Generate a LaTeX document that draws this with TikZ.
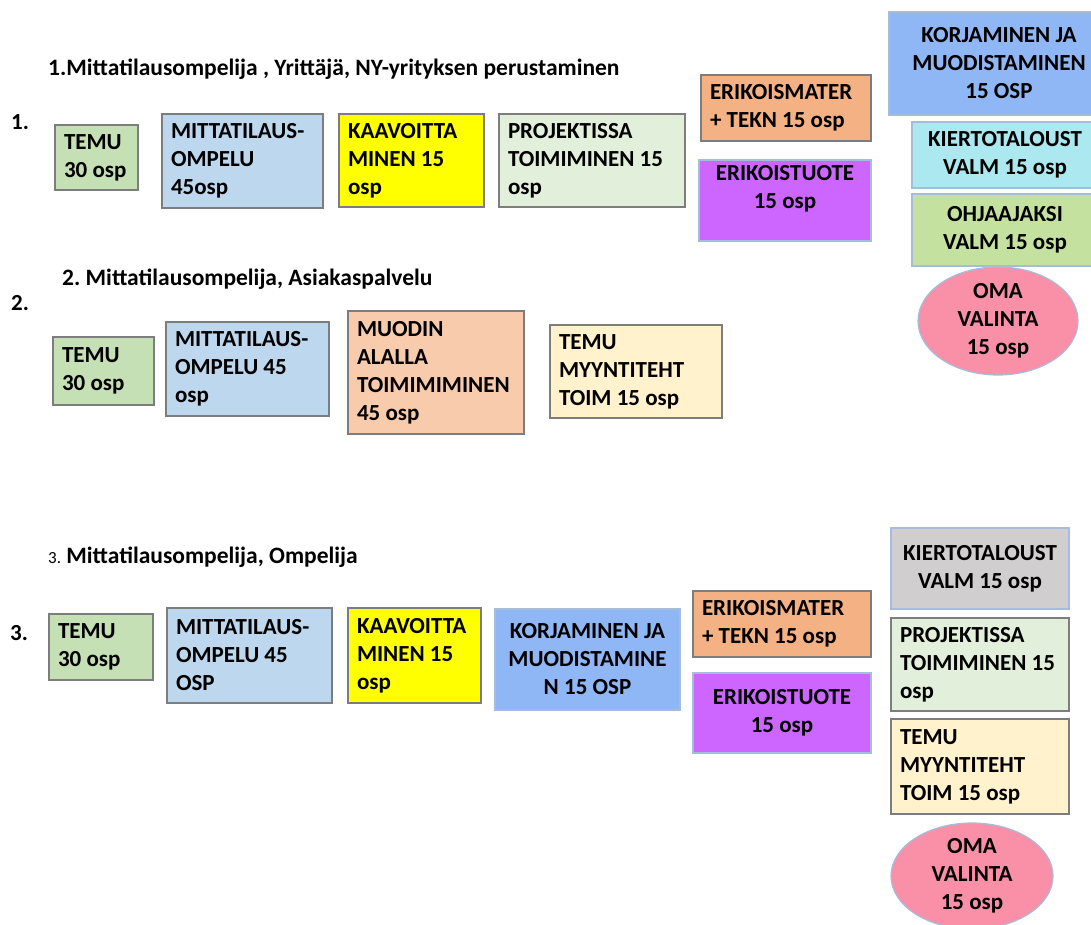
\documentclass[tikz,border=0pt]{standalone}
\usepackage{fontspec}
\setmainfont{Carlito}
\usepackage{xcolor}
\usetikzlibrary{shapes.geometric}
\frenchspacing
\definecolor{temu-green}{RGB}{197,224,180}
\definecolor{mitta-blue}{RGB}{189,215,238}
\definecolor{kaava-yellow}{RGB}{255,255,0}
\definecolor{proj-green}{RGB}{226,239,218}
\definecolor{erimat-orange}{RGB}{244,177,131}
\definecolor{tuote-purple}{RGB}{204,102,255}
\definecolor{korj-blue}{RGB}{143,182,245}
\definecolor{kierto-cyan}{RGB}{171,232,240}
\definecolor{ohjaa-green}{RGB}{197,225,160}
\definecolor{oma-pink}{RGB}{250,143,168}
\definecolor{muodin-peach}{RGB}{248,203,173}
\definecolor{myynti-cream}{RGB}{255,242,204}
\definecolor{kierto-gray}{RGB}{208,206,206}
\definecolor{box-edge}{RGB}{125,125,125}
\definecolor{soft-edge}{RGB}{165,188,218}

\begin{document}
\begin{tikzpicture}[x=1pt, y=-1pt,
  every node/.style={font=\fontsize{23}{28}\selectfont\bfseries, inner sep=0pt},
  box/.style 2 args={draw=box-edge, line width=1.2pt, inner xsep=9pt, align=flush left,
    minimum width=#1, minimum height=#2, text width=#1-18},
  cbox/.style 2 args={draw=soft-edge, line width=1.2pt, align=center,
    minimum width=#1, minimum height=#2},
  oval/.style={ellipse, draw=soft-edge, line width=1.2pt, fill=oma-pink},
  head/.style={anchor=west, font=\fontsize{23.5}{28}\selectfont\bfseries},
]
  \useasboundingbox (0,0) rectangle (1091,924);

  % 1. Yrittaja
  \node[head] (title1) at (48,69) {1.Mittatilausompelija , Yrittäjä, NY-yrityksen perustaminen};
  \node[anchor=west] (num1) at (11,122) {1.};
  \node[box={83}{65}, fill=temu-green] (r1temu) at (96.5,157.5) {TEMU\\30 osp};
  \node[box={161}{94}, fill=mitta-blue] (r1mitta) at (242.5,161) {MITTATILAUS-\\OMPELU\\45osp};
  \node[box={145}{93}, fill=kaava-yellow] (r1kaava) at (411.5,160.5) {KAAVOITTA\\MINEN 15\\osp};
  \node[box={186}{93}, fill=proj-green] (r1proj) at (592,160.5) {PROJEKTISSA\\TOIMIMINEN 15\\osp};
  \node[box={170}{66}, fill=erimat-orange] (r1erimat) at (786,108) {ERIKOISMATER\\+ TEKN 15 osp};
  \node[cbox={172}{81}, fill=tuote-purple] (r1tuote) at (785,200.5) {ERIKOISTUOTE\\15 osp\\\mbox{}};
  \node[cbox={220}{103}, fill=korj-blue] (r1korj) at (999,63.5) {KORJAMINEN JA\\MUODISTAMINEN\\15 OSP};
  \node[cbox={186}{66}, fill=kierto-cyan] (r1kierto) at (1005,155) {KIERTOTALOUST\\VALM 15 osp};
  \node[cbox={186}{72}, fill=ohjaa-green] (r1ohjaa) at (1005,230) {OHJAAJAKSI\\VALM 15 osp};
  \node[oval, minimum width=160, minimum height=108] (r1oma) at (998,321) {};
  \node[align=center] (r1omatext) at (r1oma) {OMA\\VALINTA\\15 osp};

  % 2. Asiakaspalvelu
  \node[head] (title2) at (62,279) {2. Mittatilausompelija, Asiakaspalvelu};
  \node[anchor=west] (num2) at (11,303) {2.};
  \node[box={101}{68}, fill=temu-green] (r2temu) at (103.5,371) {TEMU\\30 osp};
  \node[box={163}{94}, fill=mitta-blue] (r2mitta) at (247.5,369) {MITTATILAUS-\\OMPELU 45\\osp};
  \node[box={176}{123}, fill=muodin-peach] (r2muodin) at (436,372.5) {MUODIN\\ALALLA\\TOIMIMIMINEN\\45 osp};
  \node[box={172}{93}, fill=myynti-cream] (r2myynti) at (636,371.5) {TEMU\\MYYNTITEHT\\TOIM 15 osp};

  % 3. Ompelija
  \node[head] (title3) at (48,557) {{\mdseries\fontsize{17}{20}\selectfont 3.} Mittatilausompelija, Ompelija};
  \node[anchor=west] (num3) at (10,633) {3.};
  \node[box={104}{66}, fill=temu-green] (r3temu) at (101,647) {TEMU\\30 osp};
  \node[box={165}{95}, fill=mitta-blue] (r3mitta) at (249.5,655.5) {MITTATILAUS-\\OMPELU 45\\OSP};
  \node[box={133}{95}, fill=kaava-yellow] (r3kaava) at (414.5,655.5) {KAAVOITTA\\MINEN 15\\osp};
  \node[cbox={185}{101}, fill=korj-blue] (r3korj) at (587.5,659.5) {KORJAMINEN JA\\MUODISTAMINE\\N 15 OSP};
  \node[box={178}{66}, fill=erimat-orange] (r3erimat) at (782,624) {ERIKOISMATER\\+ TEKN 15 osp};
  \node[cbox={178}{80}, fill=tuote-purple] (r3tuote) at (782,713) {ERIKOISTUOTE\\15 osp};
  \node[cbox={178}{81}, fill=kierto-gray] (r3kierto) at (980,568.5) {KIERTOTALOUST\\VALM 15 osp};
  \node[box={178}{93}, fill=proj-green] (r3proj) at (980,664.5) {PROJEKTISSA\\TOIMIMINEN 15\\osp};
  \node[box={178}{95}, fill=myynti-cream] (r3myynti) at (980,766.5) {TEMU\\MYYNTITEHT\\TOIM 15 osp};
  \node[oval, minimum width=162, minimum height=106] (r3oma) at (972,876) {};
  \node[align=center] (r3omatext) at (r3oma) {OMA\\VALINTA\\15 osp};
\end{tikzpicture}
\end{document}
